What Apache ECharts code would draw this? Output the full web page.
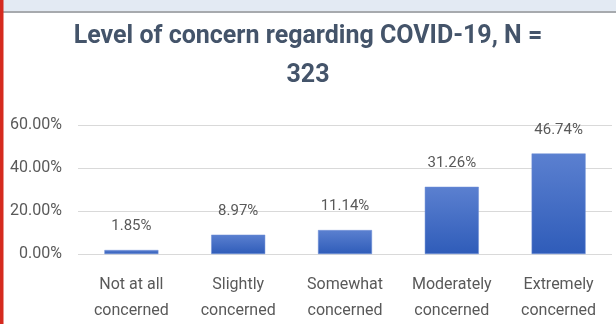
<!DOCTYPE html>
<html>
<head>
<meta charset="utf-8">
<script src="https://cdn.jsdelivr.net/npm/echarts@6/dist/echarts.min.js"></script>
<style>
  html, body { margin: 0; padding: 0; background: #ffffff; }
  #chart { width: 616px; height: 324px; }
</style>
</head>
<body>
<div id="chart"></div>
<script>
// Survey responses: share of respondents at each level of concern
const categories = [
  'Not at all\nconcerned',
  'Slightly\nconcerned',
  'Somewhat\nconcerned',
  'Moderately\nconcerned',
  'Extremely\nconcerned'
];
const percentages = [1.85, 8.97, 11.14, 31.26, 46.74];
const yTicks = { min: 0, max: 60, step: 20 };
const chartTitle = 'Level of concern regarding COVID-19, N =\n323';

const textColor = '#595959';
const fontFamily = 'Roboto, "Open Sans", sans-serif';

const chart = echarts.init(document.getElementById('chart'), null, { renderer: 'canvas' });

chart.setOption({
  backgroundColor: '#ffffff',
  animation: false,
  title: {
    text: chartTitle,
    left: 'center',
    top: 12,
    textStyle: {
      color: '#44546a',
      fontFamily: fontFamily,
      fontWeight: 'bold',
      fontSize: 25,
      lineHeight: 39
    }
  },
  graphic: [
    // page band along the top edge
    { type: 'rect', shape: { x: 0, y: 0, width: 616, height: 11 }, style: { fill: '#e3eaf3' }, silent: true },
    { type: 'rect', shape: { x: 0, y: 11, width: 616, height: 2 }, style: { fill: '#a7aaae' }, silent: true },
    // red margin rule on the left
    { type: 'rect', shape: { x: 0, y: 0, width: 3.5, height: 324 }, style: { fill: '#d52a1f' }, silent: true, z: 10 }
  ],
  grid: { left: 78, right: 4, top: 125, bottom: 67.5, containLabel: false },
  xAxis: {
    type: 'category',
    data: categories,
    axisLine: { show: false },
    axisTick: { show: false },
    axisLabel: {
      color: textColor,
      fontFamily: fontFamily,
      fontSize: 16,
      lineHeight: 26,
      margin: 18,
      interval: 0
    }
  },
  yAxis: {
    type: 'value',
    min: yTicks.min,
    max: yTicks.max,
    interval: yTicks.step,
    axisLine: { show: false },
    axisTick: { show: false },
    splitLine: { lineStyle: { color: '#d9d9d9', width: 1 } },
    axisLabel: {
      color: textColor,
      fontFamily: fontFamily,
      fontSize: 16,
      margin: 16,
      formatter: v => v.toFixed(2) + '%'
    }
  },
  series: [{
    type: 'bar',
    data: percentages,
    barWidth: 54,
    itemStyle: {
      color: new echarts.graphic.LinearGradient(0, 0, 0, 1, [
        { offset: 0, color: '#5b80d0' },
        { offset: 1, color: '#2f5cb9' }
      ]),
      borderColor: '#6f8fd6',
      borderWidth: 0.5
    },
    label: {
      show: true,
      position: 'top',
      distance: 16,
      color: textColor,
      fontFamily: fontFamily,
      fontSize: 15,
      formatter: p => p.value.toFixed(2) + '%'
    }
  }]
});
</script>
</body>
</html>
